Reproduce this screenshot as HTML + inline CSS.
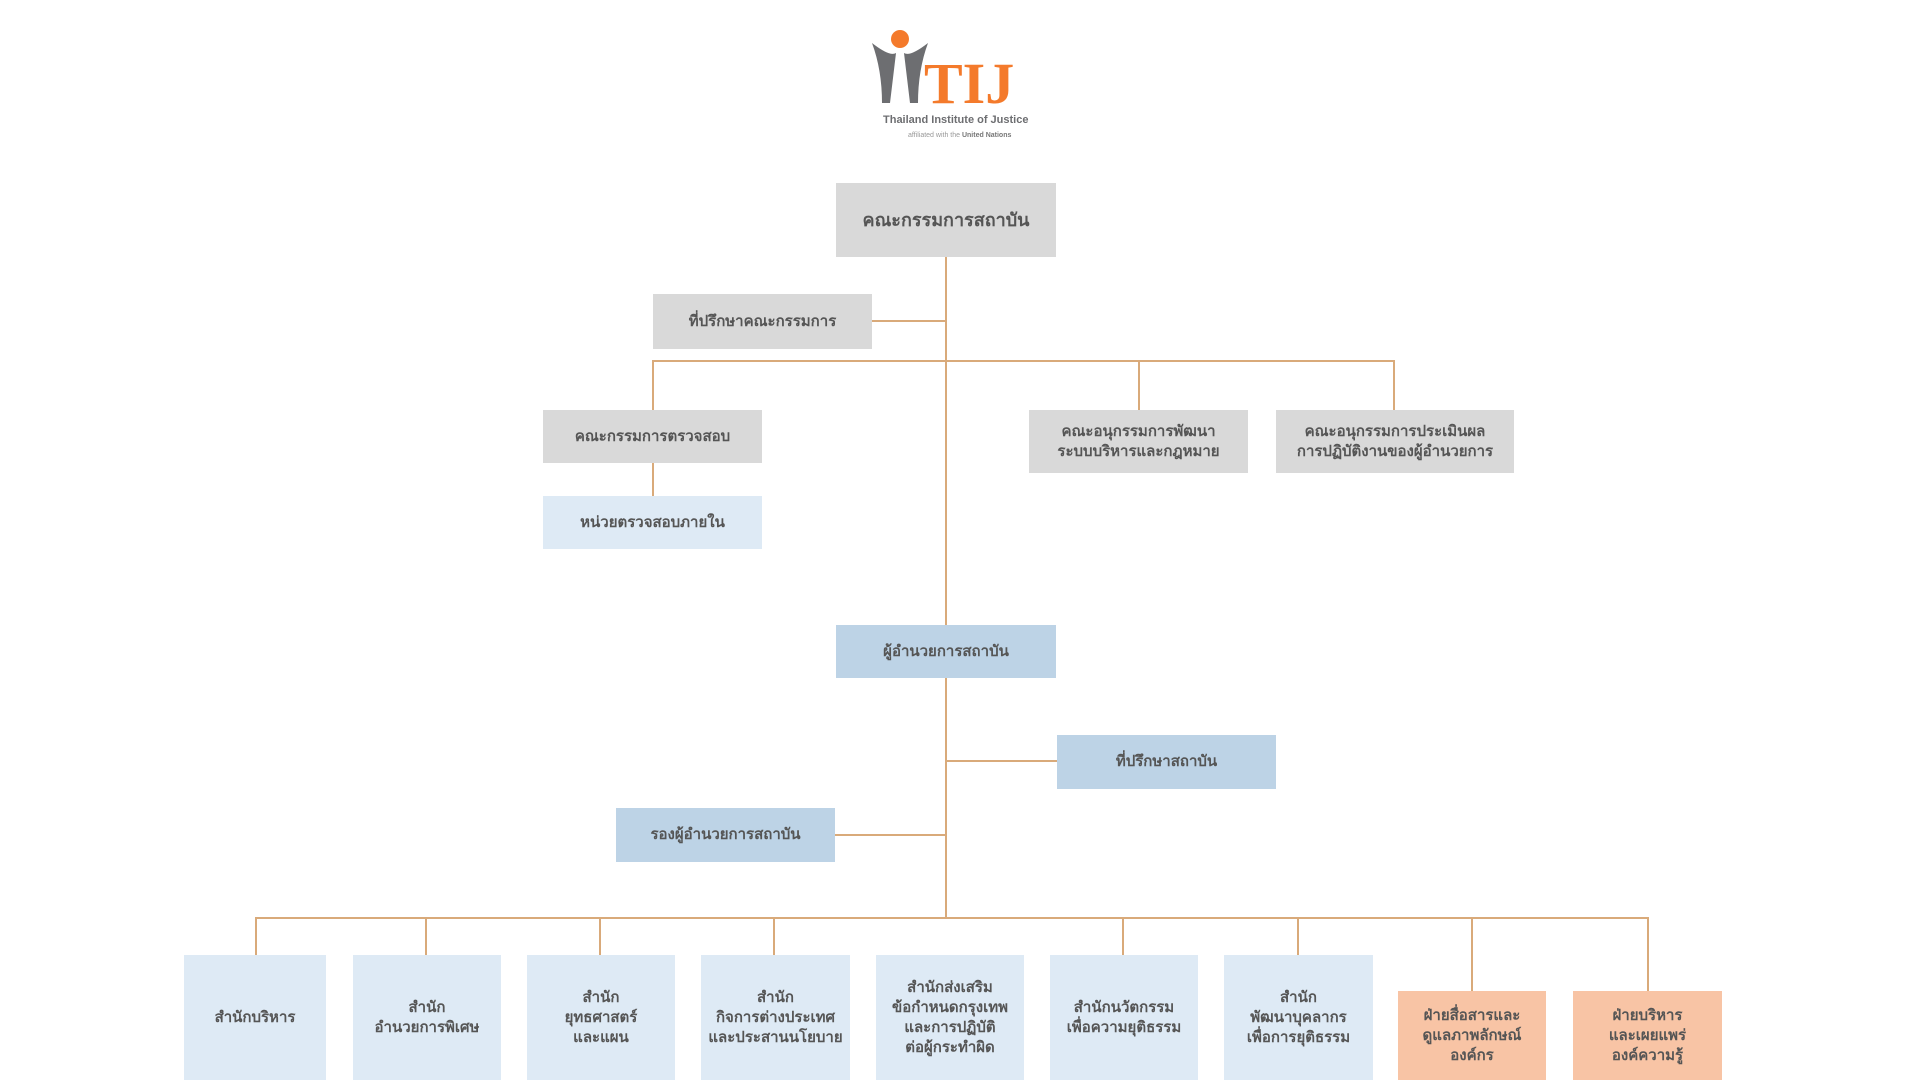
<!DOCTYPE html>
<html><head><meta charset="utf-8"><style>
body{margin:0;width:1920px;height:1080px;background:#fff;position:relative;overflow:hidden;font-family:"Liberation Sans","DejaVu Sans",sans-serif;}
.b{position:absolute;display:flex;align-items:center;justify-content:center;text-align:center;color:#555;font-weight:bold;font-size:15px;line-height:20px;box-sizing:border-box;}
.g{background:#d9d9d9}.l{background:#deeaf5}.m{background:#bdd3e6}.o{background:#f8c4a5}
.h,.v{position:absolute;background:#d9aa7a}
.h{height:2px}.v{width:2px}
</style></head><body>
<svg style="position:absolute;left:860px;top:25px" width="180" height="120">
<circle cx="40" cy="14" r="9" fill="#f47a2b"/>
<path d="M12 18 Q30 32 36 28 L30 78 L22 78 Q22 45 12 18Z" fill="#6d6e71"/>
<path d="M68 18 Q50 32 44 28 L50 78 L58 78 Q58 45 68 18Z" fill="#6d6e71"/>
<text x="64" y="78" font-family="Liberation Serif,serif" font-weight="bold" font-size="58" fill="#f47a2b">TIJ</text>
<text x="23" y="98" font-family="Liberation Sans,sans-serif" font-weight="bold" font-size="11" fill="#6d6e71">Thailand Institute of Justice</text>
<text x="48" y="112" font-family="Liberation Sans,sans-serif" font-size="7" fill="#999">affiliated with the <tspan font-weight="bold" fill="#777">United Nations</tspan></text>
</svg>
<div class="v" style="left:945px;top:257px;height:662px"></div>
<div class="h" style="left:872px;top:320px;width:74px"></div>
<div class="h" style="left:653px;top:360px;width:742px"></div>
<div class="v" style="left:652px;top:360px;height:50px"></div>
<div class="v" style="left:1138px;top:360px;height:50px"></div>
<div class="v" style="left:1393px;top:360px;height:50px"></div>
<div class="v" style="left:652px;top:463px;height:33px"></div>
<div class="h" style="left:946px;top:760px;width:111px"></div>
<div class="h" style="left:835px;top:834px;width:111px"></div>
<div class="h" style="left:256px;top:917px;width:1393px"></div>
<div class="v" style="left:255px;top:917px;height:38px"></div>
<div class="v" style="left:425px;top:917px;height:38px"></div>
<div class="v" style="left:599px;top:917px;height:38px"></div>
<div class="v" style="left:773px;top:917px;height:38px"></div>
<div class="v" style="left:1122px;top:917px;height:38px"></div>
<div class="v" style="left:1297px;top:917px;height:38px"></div>
<div class="v" style="left:1471px;top:917px;height:74px"></div>
<div class="v" style="left:1647px;top:917px;height:74px"></div>

<div class="b g" style="left:836px;top:183px;width:220px;height:74px;font-size:18px">คณะกรรมการสถาบัน</div>
<div class="b g" style="left:653px;top:294px;width:219px;height:55px">ที่ปรึกษาคณะกรรมการ</div>
<div class="b g" style="left:543px;top:410px;width:219px;height:53px">คณะกรรมการตรวจสอบ</div>
<div class="b l" style="left:543px;top:496px;width:219px;height:53px">หน่วยตรวจสอบภายใน</div>
<div class="b g" style="left:1029px;top:410px;width:219px;height:63px">คณะอนุกรรมการพัฒนา<br>ระบบบริหารและกฎหมาย</div>
<div class="b g" style="left:1276px;top:410px;width:238px;height:63px">คณะอนุกรรมการประเมินผล<br>การปฏิบัติงานของผู้อำนวยการ</div>
<div class="b m" style="left:836px;top:625px;width:220px;height:53px">ผู้อำนวยการสถาบัน</div>
<div class="b m" style="left:1057px;top:735px;width:219px;height:54px">ที่ปรึกษาสถาบัน</div>
<div class="b m" style="left:616px;top:808px;width:219px;height:54px">รองผู้อำนวยการสถาบัน</div>

<div class="b l" style="left:184px;top:955px;width:142px;height:125px">สำนักบริหาร</div>
<div class="b l" style="left:353px;top:955px;width:148px;height:125px">สำนัก<br>อำนวยการพิเศษ</div>
<div class="b l" style="left:527px;top:955px;width:148px;height:125px">สำนัก<br>ยุทธศาสตร์<br>และแผน</div>
<div class="b l" style="left:701px;top:955px;width:149px;height:125px">สำนัก<br>กิจการต่างประเทศ<br>และประสานนโยบาย</div>
<div class="b l" style="left:876px;top:955px;width:148px;height:125px">สำนักส่งเสริม<br>ข้อกำหนดกรุงเทพ<br>และการปฏิบัติ<br>ต่อผู้กระทำผิด</div>
<div class="b l" style="left:1050px;top:955px;width:148px;height:125px">สำนักนวัตกรรม<br>เพื่อความยุติธรรม</div>
<div class="b l" style="left:1224px;top:955px;width:149px;height:125px">สำนัก<br>พัฒนาบุคลากร<br>เพื่อการยุติธรรม</div>
<div class="b o" style="left:1398px;top:991px;width:148px;height:89px">ฝ่ายสื่อสารและ<br>ดูแลภาพลักษณ์<br>องค์กร</div>
<div class="b o" style="left:1573px;top:991px;width:149px;height:89px">ฝ่ายบริหาร<br>และเผยแพร่<br>องค์ความรู้</div>
</body></html>
